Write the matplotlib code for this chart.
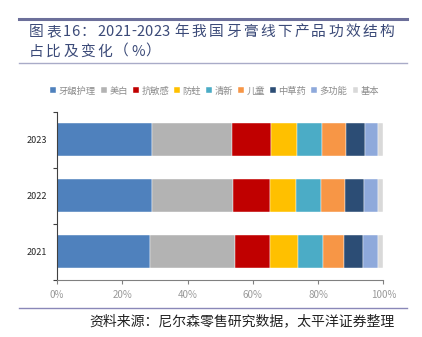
import numpy as np
import matplotlib.pyplot as plt
from matplotlib.lines import Line2D

plt.rcParams['font.family'] = ['Noto Sans CJK SC', 'DejaVu Sans']

# 2021-2023 toothpaste offline sales share by efficacy (%)
years = ['2021', '2022', '2023']
categories = ['牙龈护理', '美白', '抗敏感', '防蛀', '清新', '儿童', '中草药', '多功能', '基本']
shares = {
    '牙龈护理': [28.4, 29.1, 29.2],
    '美白':     [26.1, 24.7, 24.4],
    '抗敏感':   [10.8, 11.5, 12.0],
    '防蛀':     [8.5, 8.0, 7.9],
    '清新':     [7.6, 7.6, 7.8],
    '儿童':     [6.6, 7.4, 7.2],
    '中草药':   [5.8, 5.8, 5.8],
    '多功能':   [4.6, 4.3, 4.1],
    '基本':     [1.6, 1.6, 1.6],
}
colors = ['#4F81BD', '#B3B3B3', '#C00000', '#FFC000', '#4BACC6',
          '#F79646', '#2C4D75', '#8EA9DB', '#D9D9D9']

fig = plt.figure(figsize=(4.22, 3.37), dpi=100)
W, H = 422, 337
renderer = fig.canvas.get_renderer()


def spaced_text(x0, yc, s, track, **kw):
    # lay out glyph by glyph, adding extra tracking after wide (CJK) glyphs
    x = x0
    for ch in s:
        t = fig.text(x / W, 1 - yc / H, ch, va='center', ha='left', **kw)
        if ch == ' ':
            x += 4.5
            continue
        w = t.get_window_extent(renderer).width
        x += w + (track if not ch.isascii() else 0.3)


# header: rules and title
title_color = '#3B4A78'
fig.add_artist(Line2D([19 / W, 407 / W], [1 - 18.5 / H] * 2, color='#6C6F9A', lw=2.2))
fig.add_artist(Line2D([19 / W, 407 / W], [1 - 62.5 / H] * 2, color='#A9ABC8', lw=1.0))
spaced_text(29, 32, '图表16：2021-2023 年我国牙膏线下产品功效结构',
            2.3, fontsize=10.6, color=title_color)
spaced_text(29, 52, '占比及变化（%）', 2.3, fontsize=10.6, color=title_color)

ax = fig.add_axes([57 / W, 1 - 280 / H, (383.3 - 57) / W, (280 - 111.7) / H])

y = np.arange(len(years))
left = np.zeros(len(years))
for cat, col in zip(categories, colors):
    vals = np.array(shares[cat])
    ax.barh(y, vals, left=left, height=0.59, color=col, label=cat,
            edgecolor='white', linewidth=0.3)
    left += vals

ax.set_xlim(0, 100)
ax.set_ylim(-0.5, 2.5)
ax.set_xticks(np.arange(0, 101, 20))
ax.set_xticklabels([f'{v}%' for v in range(0, 101, 20)])
ax.set_yticks(y)
ax.set_yticklabels(years)
ax.set_yticks([-0.5, 0.5, 1.5, 2.5], minor=True)

for s in ['top', 'right']:
    ax.spines[s].set_visible(False)
ax.spines['left'].set_color('#404040')
ax.spines['bottom'].set_color('#808080')
ax.spines['left'].set_linewidth(0.8)
ax.spines['bottom'].set_linewidth(0.8)

ax.tick_params(axis='y', which='major', length=0, labelsize=6.5, labelcolor='#262626', pad=7)
ax.tick_params(axis='y', which='minor', length=3, color='#404040', width=0.8)
ax.tick_params(axis='x', length=3, color='#808080', labelsize=7, labelcolor='#999999', pad=4)

handles, labels = ax.get_legend_handles_labels()
fig.legend(handles, labels, loc='center', bbox_to_anchor=(215 / W, 1 - 91 / H),
           ncol=9, frameon=False, fontsize=6.7, handlelength=0.6, handleheight=0.6,
           handletextpad=0.3, columnspacing=0.55, labelcolor='#8C8C8C')

# footer
fig.add_artist(Line2D([19 / W, 407 / W], [1 - 308 / H] * 2, color='#8A88B8', lw=1.0))
fig.text(395 / W, 1 - 321 / H, '资料来源：尼尔森零售研究数据，太平洋证券整理',
         fontsize=10, color='#222222', style='italic', ha='right', va='center')

fig.savefig('out.png', dpi=100)
